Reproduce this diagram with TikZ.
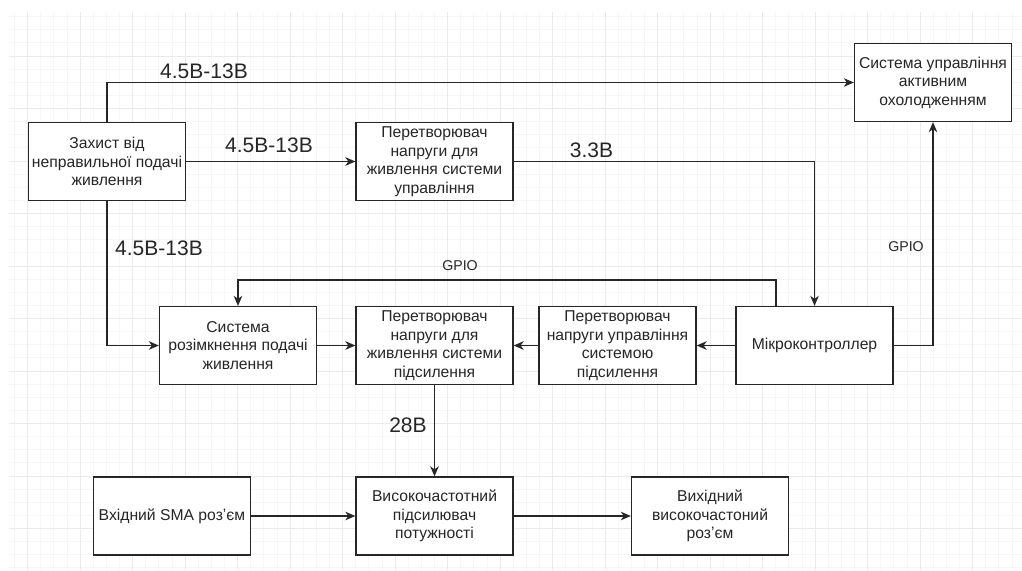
\documentclass[tikz,border=0pt]{standalone}
\usepackage{fontspec}
\setmainfont{Liberation Sans}
\usetikzlibrary{arrows.meta}
\begin{document}
\begin{tikzpicture}[x=1pt,y=-1pt,
    block/.style={draw=black!85,line width=1.3pt,fill=white,minimum width=157pt,minimum height=78pt,
      align=center,inner sep=2pt,text=black!85,font=\fontsize{15.7}{18.5}\selectfont},
    wire/.style={draw=black!85,line width=1.3pt,-{Stealth[length=10pt,width=8.5pt,inset=3pt]}},
    volt/.style={inner sep=0pt,text=black!85,font=\fontsize{21}{24}\selectfont},
    sig/.style={inner sep=0pt,text=black!85,font=\fontsize{14.2}{17}\selectfont}]
  \useasboundingbox[fill=white] (0,0) rectangle (1022,570);
  % grid
  \begin{scope}[shift={(27.7,56)}]
    \draw[black!3.5,line width=1pt,step=13.125pt] (-18.7,-44) grid (994.3,514);
    \draw[black!8,line width=1pt,step=52.5pt] (-18.7,-44) grid (994.3,514);
  \end{scope}

  % blocks
  \node[block] (prot) at (107,161.5) {Захист від\\неправильної подачі\\живлення};
  \node[block] (convctl) at (434.5,161.5) {Перетворювач\\напруги для\\живлення системи\\управління};
  \node[block] (cool) at (933,82.5) {Система управління\\активним\\охолодженням};
  \node[block] (brk) at (238,345.5) {Система\\розімкнення подачі\\живлення};
  \node[block] (convamp) at (434.5,345.5) {Перетворювач\\напруги для\\живлення системи\\підсилення};
  \node[block] (convreg) at (617.5,345.5) {Перетворювач\\напруги управління\\системою\\підсилення};
  \node[block] (micro) at (814.5,345.5) {Мікроконтроллер};
  \node[block] (sma) at (172,516) {Вхідний SMA розʼєм};
  \node[block] (amp) at (434.5,516) {Високочастотний\\підсилювач\\потужності};
  \node[block] (out) at (710,516) {Вихідний\\високочастоний\\розʼєм};

  % power
  \draw[wire] (prot.north) |- (cool.west);
  \draw[wire] (prot.east) -- (convctl.west);
  \draw[wire] (prot.south) |- (brk.west);
  \draw[wire] (convctl.east) -| (micro.north);
  \draw[wire] (brk.east) -- (convamp.west);
  \draw[wire] (convreg.west) -- (convamp.east);
  \draw[wire] (micro.west) -- (convreg.east);
  \draw[wire] (convamp.south) -- (amp.north);

  % control
  \coordinate (gpio) at (776,280);
  \draw[wire] (gpio |- micro.north) -- (gpio) -| (brk.north);
  \draw[wire] (micro.east) -| (cool.south);

  % rf
  \draw[wire] (sma.east) -- (amp.west);
  \draw[wire] (amp.east) -- (out.west);

  % labels
  \node[volt] (vtop) at (204,71) {4.5В-13В};
  \node[volt] (vmid) at (269,145) {4.5В-13В};
  \node[volt] (vlow) at (159,248.5) {4.5В-13В};
  \node[volt] (v33) at (591.5,150) {3.3В};
  \node[volt] (v28) at (408,425.5) {28В};
  \node[sig] (gpiobrk) at (460,266) {GPIO};
  \node[sig] (gpiocool) at (906,246.5) {GPIO};
\end{tikzpicture}
\end{document}
